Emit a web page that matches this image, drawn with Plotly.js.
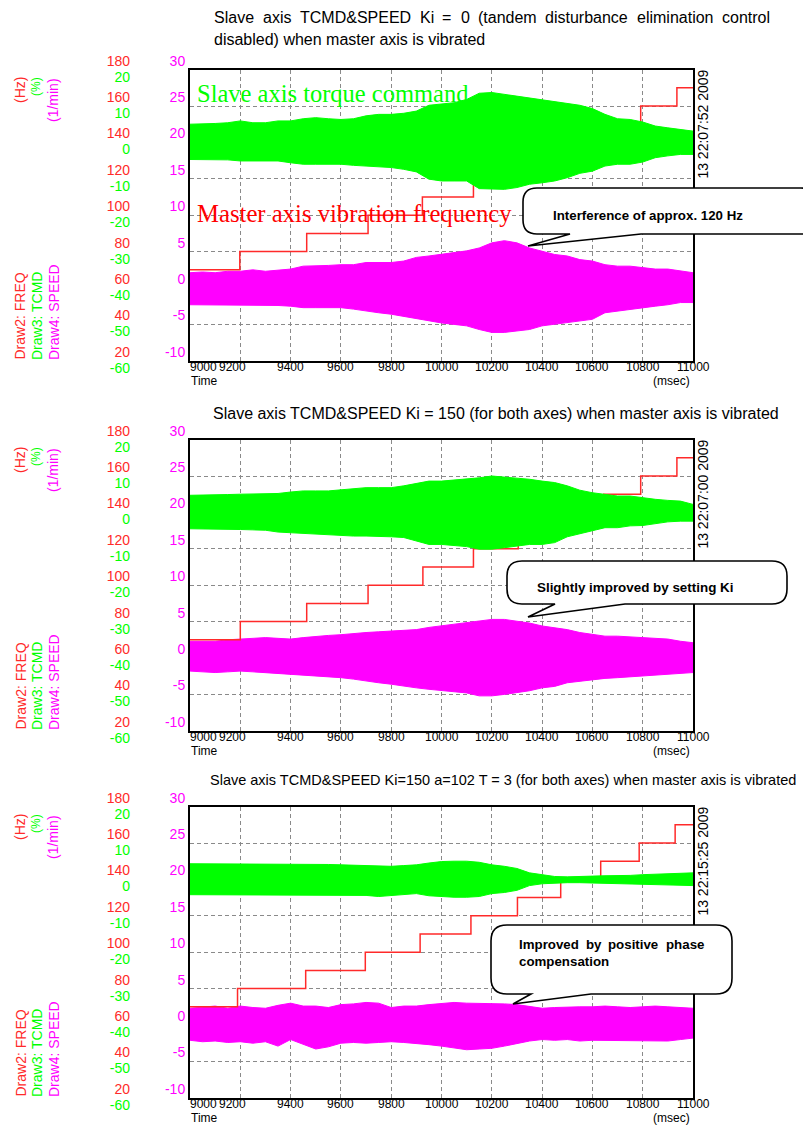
<!DOCTYPE html>
<html><head><meta charset="utf-8">
<script src="https://cdn.plot.ly/plotly-3.0.1.min.js"></script>
<style>html,body{margin:0;padding:0;background:#fff;}#chart{width:803px;height:1129px;}</style>
</head><body><div id="chart"></div>
<script>
// ---------------- DATA ----------------
const envTime = [9000,9050,9100,9150,9200,9250,9300,9350,9400,9450,9500,9550,9600,9650,9700,9750,9800,9850,9900,9950,10000,10050,10100,10150,10200,10250,10300,10350,10400,10450,10500,10550,10600,10650,10700,10750,10800,10850,10900,10950,11000];

// Master axis vibration frequency (Hz), step changes
const p1FreqTime = [9000,9198,9464,9708,9924,10127,10310,10480,10640,10792,10936,11000];
const p1FreqHz   = [70,80,90,100,110,120,130,140,150,160,170,170];
const p2FreqTime = [9000,9200,9464,9708,9926,10127,10305,10480,10645,10792,10936,11000];
const p2FreqHz   = [70,80,90,100,110,120,130,140,150,160,170,170];
const p3FreqTime = [9000,9189,9460,9697,9915,10117,10302,10474,10633,10786,10929,11000];
const p3FreqHz   = [70,80,90,100,110,120,130,140,150,160,170,170];

// Slave axis torque command TCMD (%) envelope, upper / lower
const p1TcmdHi = [5.0,5.0,5.2,5.4,5.9,5.4,5.4,5.9,5.9,6.5,6.8,6.5,6.3,6.5,7.3,7.7,7.7,8.0,8.6,10.2,10.5,10.9,11.8,13.5,13.7,13.2,12.7,12.3,11.8,11.4,10.9,10.2,9.3,7.7,6.5,6.3,5.6,4.5,4.0,3.6,3.1];
const p1TcmdLo = [-4.7,-4.7,-4.7,-4.8,-5.1,-5.1,-5.1,-5.1,-5.6,-6.0,-6.0,-6.0,-6.0,-6.3,-6.5,-6.9,-6.9,-7.4,-8.1,-10.1,-10.6,-10.6,-10.6,-12.7,-12.9,-12.9,-12.4,-11.5,-11.1,-10.6,-9.7,-8.5,-7.9,-6.5,-6.0,-6.0,-5.4,-4.2,-3.7,-3.3,-3.3];
const p2TcmdHi = [4.7,4.7,4.7,4.9,5.0,5.0,5.0,5.2,5.6,5.9,5.9,5.9,6.2,6.5,6.8,6.8,6.8,7.3,8.0,8.6,8.6,8.9,9.1,9.5,10.0,9.7,9.5,9.1,8.6,8.2,7.3,6.1,5.4,5.0,4.5,4.5,4.0,3.6,3.3,3.1,2.2];
const p2TcmdLo = [-4.5,-4.5,-4.5,-4.7,-4.7,-4.8,-4.9,-5.4,-5.6,-5.8,-5.8,-6.0,-6.3,-6.5,-6.5,-6.5,-6.7,-6.9,-7.9,-8.8,-8.8,-9.1,-9.4,-10.1,-10.1,-9.7,-9.2,-8.8,-8.8,-8.3,-6.7,-5.8,-5.1,-4.2,-4.2,-3.7,-3.6,-3.0,-2.6,-2.4,-2.4];
const p3TcmdHi = [4.3,4.3,4.3,4.3,4.3,4.3,4.3,4.2,4.2,4.2,4.2,4.1,4.0,3.9,3.8,3.6,3.6,3.8,4.0,4.5,4.9,5.0,5.0,4.7,4.0,3.6,3.0,1.8,1.3,0.8,0.7,0.7,0.9,1.0,1.0,1.1,1.3,1.4,1.6,1.7,1.8];
const p3TcmdLo = [-4.2,-4.2,-4.2,-4.2,-4.2,-4.2,-4.2,-4.2,-4.2,-4.2,-4.2,-4.2,-4.2,-4.2,-4.4,-4.7,-4.5,-4.3,-3.9,-4.5,-4.8,-4.9,-4.9,-4.7,-3.9,-3.6,-3.0,-1.7,-1.2,-1.0,-0.9,-0.9,-1.0,-1.0,-1.1,-1.3,-1.5,-1.5,-1.6,-1.6,-1.7];

// Slave axis SPEED (1/min) envelope, upper / lower
const p1SpeedHi = [2.1,2.2,2.1,2.3,2.3,2.5,2.3,2.5,2.6,3.0,3.0,3.1,3.2,3.2,3.5,3.5,3.5,3.7,4.2,4.4,4.6,4.8,5.1,5.5,6.2,6.5,6.2,5.5,5.1,4.6,4.4,3.9,3.7,3.2,3.0,3.0,2.8,2.6,2.6,2.3,2.1];
const p1SpeedLo = [-2.3,-2.3,-2.3,-2.3,-2.3,-2.3,-2.3,-2.4,-2.5,-2.7,-2.7,-2.7,-2.7,-2.9,-3.2,-3.4,-3.6,-3.9,-4.3,-4.5,-4.8,-5.0,-5.2,-5.7,-6.1,-6.1,-5.9,-5.7,-5.2,-5.0,-4.8,-4.5,-4.3,-3.4,-3.2,-2.9,-2.7,-2.5,-2.3,-2.0,-2.0];
const p2SpeedHi = [2.3,2.3,2.3,2.5,2.6,2.7,2.8,2.7,2.6,2.8,3.0,3.1,3.2,3.4,3.5,3.6,3.7,3.8,3.9,4.2,4.4,4.6,4.8,5.1,5.3,5.3,5.1,4.8,4.4,4.2,3.9,3.5,3.2,3.0,3.0,2.9,2.8,2.7,2.6,2.3,2.1];
const p2SpeedLo = [-1.8,-1.9,-2.0,-1.9,-1.8,-1.9,-2.0,-2.1,-2.3,-2.4,-2.5,-2.6,-2.7,-2.9,-3.2,-3.4,-3.6,-3.9,-4.1,-4.3,-4.5,-4.7,-4.8,-5.2,-5.2,-5.0,-4.8,-4.5,-4.1,-3.9,-3.4,-3.2,-2.9,-2.8,-2.7,-2.6,-2.5,-2.4,-2.3,-2.1,-2.0];
const p3SpeedHi = [2.3,2.4,2.6,2.3,2.6,2.4,2.3,2.7,3.0,2.6,2.6,2.4,2.8,2.9,3.1,3.0,2.4,2.6,2.6,2.8,3.0,3.1,3.0,3.0,3.0,2.9,2.8,2.6,2.3,2.4,2.5,2.5,2.5,2.6,2.5,2.4,2.5,2.6,2.5,2.4,2.3];
const p3SpeedLo = [-2.1,-2.3,-2.2,-2.4,-2.3,-2.5,-2.3,-2.9,-2.0,-2.6,-3.3,-3.0,-2.5,-2.4,-2.5,-2.4,-2.3,-2.4,-2.5,-2.7,-2.9,-3.2,-3.4,-3.3,-3.2,-2.9,-2.5,-2.2,-2.0,-2.1,-2.0,-2.2,-2.1,-2.1,-2.1,-2.2,-2.1,-2.1,-2.2,-2.0,-1.8];

// Tick values / labels
const timeTicks = [9000,9200,9400,9600,9800,10000,10200,10400,10600,10800,11000];
const speedTicks = [-10,-5,0,5,10,15,20,25,30];
const speedTickText = ['-10','-5','0','5','10','15','20','25','30'];
const freqTicks = [20,40,60,80,100,120,140,160,180];
const freqTickText = ['20','40','60','80','100','120','140','160','180'];
const tcmdTicks = [-60,-50,-40,-30,-20,-10,0,10,20];
const tcmdTickText = ['-60','-50','-40','-30','-20','-10','0','10','20'];

// Texts
const panelTitles = [
  ['Slave axis TCMD&SPEED Ki = 0 (tandem disturbance elimination control', 'disabled) when master axis is vibrated'],
  ['Slave axis TCMD&SPEED Ki = 150 (for both axes) when master axis is vibrated'],
  ['Slave axis TCMD&SPEED Ki=150 a=102 T = 3 (for both axes) when master axis is vibrated']
];
const dateTexts = ['13 22:07:52 2009','13 22:07:00 2009','13 22:15:25 2009'];
const calloutTexts = [['Interference of approx. 120 Hz'],['Slightly improved by setting Ki'],['Improved by positive phase','compensation']];
const unitLabels = ['(Hz)','(%)','(1/min)'];
const drawLabels = ['Draw2: FREQ','Draw3: TCMD','Draw4: SPEED'];

// ---------------- LAYOUT HELPERS ----------------
const W = 803, H = 1129;
const RED = '#ff2a2a', GREEN = '#00ff00', MAG = '#ff00ff';
const FONT = '"Liberation Sans", Arial, sans-serif';
const SERIF = '"Liberation Serif", "Times New Roman", serif';
const X = v => v / W;
const Y = v => 1 - v / H;
const panelTop = [69.6, 439.6, 806.6];
const panelH = 291.2;
const plotL = 190, plotR = 693;

const cnv = document.createElement('canvas').getContext('2d');
function textW(s, size, bold){ cnv.font = (bold?'bold ':'') + size + 'px "Liberation Sans"'; return cnv.measureText(s).width; }
function ann(text, xp, yp, o){
  return Object.assign({text:text, x:X(xp), y:Y(yp), xref:'paper', yref:'paper', showarrow:false,
    xanchor:'left', yanchor:'middle', borderpad:0, borderwidth:0,
    font:{family:FONT, size:14, color:'#000'}}, o||{});
}
function justify(line, x0, x1, yp, size, bold){
  const words = line.split(' ');
  const ws = words.map(w => textW(w, size, bold));
  const gap = (x1 - x0 - ws.reduce((a,b)=>a+b,0)) / (words.length - 1);
  let x = x0; const out = [];
  words.forEach((w,i) => { out.push(ann(bold?'<b>'+w+'</b>':w, x, yp, {font:{family:FONT,size:size,color:'#000'}})); x += ws[i] + gap; });
  return out;
}
function P(x,y){ return X(x).toFixed(5)+','+Y(y).toFixed(5); }
function bubble(l,t,r,b,rad,baseL,baseR,tipX,tipY){
  return 'M'+P(l+rad,t)+' L'+P(r-rad,t)+' Q'+P(r,t)+' '+P(r,t+rad)+' L'+P(r,b-rad)+' Q'+P(r,b)+' '+P(r-rad,b)+
    ' L'+P(baseR,b)+' L'+P(tipX,tipY)+' L'+P(baseL,b)+' L'+P(l+rad,b)+' Q'+P(l,b)+' '+P(l,b-rad)+' L'+P(l,t+rad)+' Q'+P(l,t)+' '+P(l+rad,t)+' Z';
}

const panels = [
  {fT:p1FreqTime, fV:p1FreqHz, tHi:p1TcmdHi, tLo:p1TcmdLo, sHi:p1SpeedHi, sLo:p1SpeedLo},
  {fT:p2FreqTime, fV:p2FreqHz, tHi:p2TcmdHi, tLo:p2TcmdLo, sHi:p2SpeedHi, sLo:p2SpeedLo},
  {fT:p3FreqTime, fV:p3FreqHz, tHi:p3TcmdHi, tLo:p3TcmdLo, sHi:p3SpeedHi, sLo:p3SpeedLo}
];

const data = [];
const layout = {
  width:W, height:H, margin:{l:0,r:0,t:0,b:0}, paper_bgcolor:'#fff', plot_bgcolor:'#fff',
  showlegend:false, annotations:[], shapes:[], font:{family:FONT}
};
const grid = {showgrid:true, gridcolor:'#8a8a8a', gridwidth:1, griddash:'4px,3px'};

panels.forEach((p, i) => {
  const top = panelTop[i], bot = top + panelH;
  const xa = i===0 ? 'x' : 'x'+(i+1);
  const b = 3*i + 1;
  const ym = b===1 ? 'y' : 'y'+b, yr = 'y'+(b+1), yg = 'y'+(b+2);
  const dom = [Y(bot), Y(top)];
  layout[i===0?'xaxis':'xaxis'+(i+1)] = Object.assign({domain:[X(plotL), X(plotR)], range:[9000,11000], anchor:ym,
    tickvals:timeTicks, showticklabels:false, ticks:'', zeroline:false,
    showline:true, mirror:true, linecolor:'#000', linewidth:2, fixedrange:true}, grid);
  layout[b===1?'yaxis':'yaxis'+b] = Object.assign({domain:dom, range:[-10,30], anchor:xa,
    tickvals:speedTicks, ticktext:speedTickText, ticks:'', zeroline:false, ticklabelshift:-9,
    tickfont:{family:FONT, size:14, color:MAG},
    showline:true, mirror:true, linecolor:'#000', linewidth:2, fixedrange:true}, grid);
  layout['yaxis'+(b+1)] = {domain:dom, overlaying:ym, anchor:'free', position:X(130), side:'left', range:[20,180],
    tickvals:freqTicks, ticktext:freqTickText, ticks:'', showgrid:false, zeroline:false, showline:false, ticklabelshift:-9,
    tickfont:{family:FONT, size:14, color:RED}, fixedrange:true};
  layout['yaxis'+(b+2)] = {domain:dom, overlaying:ym, anchor:'free', position:X(130), side:'left', range:[-60,20],
    tickvals:tcmdTicks, ticktext:tcmdTickText, ticks:'', showgrid:false, zeroline:false, showline:false, ticklabelshift:7,
    tickfont:{family:FONT, size:14, color:GREEN}, fixedrange:true};

  // speed (magenta) band on base axis
  data.push({x:envTime, y:p.sHi, xaxis:xa, yaxis:ym, mode:'lines', line:{color:MAG, width:1}, hoverinfo:'skip'});
  data.push({x:envTime, y:p.sLo, xaxis:xa, yaxis:ym, mode:'lines', line:{color:MAG, width:1}, fill:'tonexty', fillcolor:MAG, hoverinfo:'skip'});
  // frequency steps (red)
  data.push({x:p.fT, y:p.fV, xaxis:xa, yaxis:yr, mode:'lines', line:{color:RED, width:1.5, shape:'hv'}, hoverinfo:'skip'});
  // torque command (green) band
  data.push({x:envTime, y:p.tHi, xaxis:xa, yaxis:yg, mode:'lines', line:{color:GREEN, width:1}, hoverinfo:'skip'});
  data.push({x:envTime, y:p.tLo, xaxis:xa, yaxis:yg, mode:'lines', line:{color:GREEN, width:1}, fill:'tonexty', fillcolor:GREEN, hoverinfo:'skip'});

  const A = layout.annotations;
  // x tick labels
  const nudge = {9000:13, 9200:-8};
  timeTicks.forEach(t => A.push({text:String(t), x:t, xref:xa, y:Y(bot+6), yref:'paper', showarrow:false,
    xanchor:'center', yanchor:'middle', xshift:nudge[t]||0, borderpad:0, borderwidth:0, font:{family:FONT,size:12,color:'#000'}}));
  A.push(ann('Time', 191, bot+20, {font:{family:FONT,size:12,color:'#000'}}));
  A.push(ann('(msec)', 690, bot+20, {xanchor:'right', font:{family:FONT,size:12,color:'#000'}}));
  // left vertical labels
  const off = top - panelTop[0];
  A.push(ann(unitLabels[0], 20, 77+off, {textangle:-90, xanchor:'center', yanchor:'top', font:{family:FONT,size:14,color:RED}}));
  A.push(ann(unitLabels[1], 36, 87+off, {textangle:-90, xanchor:'center', yanchor:'middle', font:{family:FONT,size:12,color:GREEN}}));
  A.push(ann(unitLabels[2], 53, 78+off, {textangle:-90, xanchor:'center', yanchor:'top', font:{family:FONT,size:14,color:MAG}}));
  A.push(ann(drawLabels[0], 20, 360+off, {textangle:-90, xanchor:'center', yanchor:'bottom', font:{family:FONT,size:14,color:RED}}));
  A.push(ann(drawLabels[1], 37, 360+off, {textangle:-90, xanchor:'center', yanchor:'bottom', font:{family:FONT,size:14,color:GREEN}}));
  A.push(ann(drawLabels[2], 54, 360+off, {textangle:-90, xanchor:'center', yanchor:'bottom', font:{family:FONT,size:14,color:MAG}}));
  // date stamp on right
  A.push(ann(dateTexts[i], 703, top+0.5, {textangle:-90, xanchor:'center', yanchor:'top', font:{family:FONT,size:14,color:'#000'}}));
});

const A = layout.annotations;
// titles
justify(panelTitles[0][0], 214, 770, 17, 16, false).forEach(a => A.push(a));
A.push(ann(panelTitles[0][1], 214, 40, {font:{family:FONT,size:16,color:'#000'}}));
A.push(ann(panelTitles[1][0], 213, 414, {font:{family:FONT,size:16,color:'#000'}}));
A.push(ann(panelTitles[2][0], 210, 780, {font:{family:FONT,size:14.5,color:'#000'}}));
// big in-plot labels
A.push(ann('Slave axis torque command', 197, 93, {font:{family:SERIF,size:24.5,color:GREEN}}));
A.push(ann('Master axis vibration frequency', 197, 213, {font:{family:SERIF,size:24.7,color:'#ff0000'}}));

// callouts
const bubbleStyle = {type:'path', xref:'paper', yref:'paper', layer:'above', fillcolor:'#fff', line:{color:'#000', width:1.6}};
layout.shapes.push(Object.assign({path:bubble(523,188,815,234,14,570,641,528,246)}, bubbleStyle));
layout.shapes.push(Object.assign({path:bubble(507,561,787,604,15,555,625,528,617)}, bubbleStyle));
layout.shapes.push(Object.assign({path:bubble(491,925,732,994,16,531,591,513,1004)}, bubbleStyle));
A.push(ann('<b>'+calloutTexts[0][0]+'</b>', 553, 216, {font:{family:FONT,size:13.3,color:'#000'}}));
A.push(ann('<b>'+calloutTexts[1][0]+'</b>', 537, 587, {font:{family:FONT,size:13.4,color:'#000'}}));
justify(calloutTexts[2][0], 519, 704, 944, 13.3, true).forEach(a => A.push(a));
A.push(ann('<b>'+calloutTexts[2][1]+'</b>', 519, 961, {font:{family:FONT,size:13.3,color:'#000'}}));

Plotly.newPlot('chart', data, layout, {staticPlot:true, displayModeBar:false});
</script></body></html>
